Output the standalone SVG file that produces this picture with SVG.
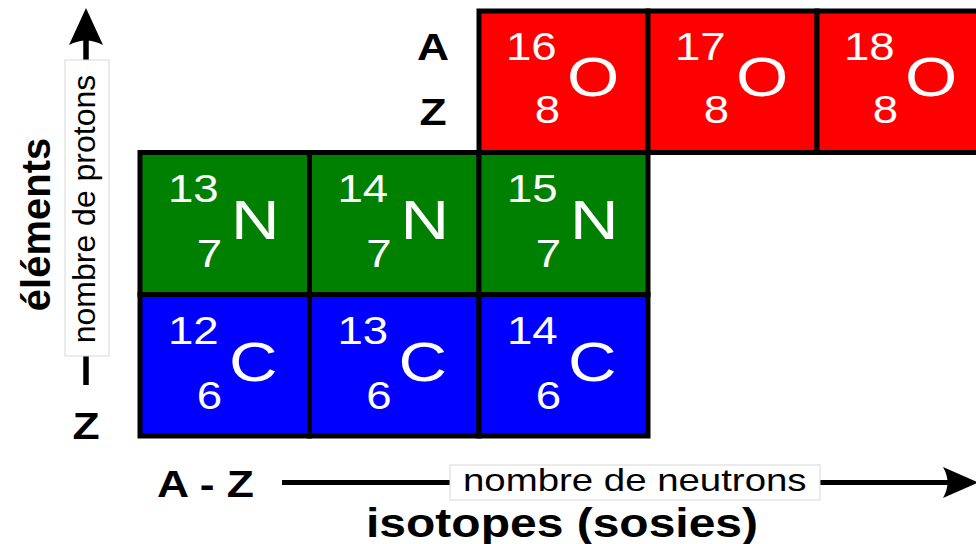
<svg xmlns="http://www.w3.org/2000/svg" width="976" height="544" viewBox="0 0 976 544">
<style>
.cell{stroke:#000;stroke-width:5}
.red{fill:#ff0000}.green{fill:#008000}.blue{fill:#0000ff}
.w{fill:#fff;font-family:"Liberation Sans",Arial,sans-serif}
.num{font-size:38px}
.sym{font-size:56px}
.b{font-family:"Liberation Sans",Arial,sans-serif;font-weight:bold;fill:#000}
.r{font-family:"Liberation Sans",Arial,sans-serif;fill:#000;font-size:32px}
.lbl{fill:#fff;stroke:#d8d8d8;stroke-width:1}
.ax{stroke:#000;fill:none}
</style>
<rect width="976" height="544" fill="#fff"/>
<g id="connectors">
  <line class="ax" x1="86" y1="385" x2="86" y2="40" stroke-width="5.5"/>
  <path d="M86,8 L103,45 Q86,36 69,45 Z" fill="#000"/>
  <line class="ax" x1="282" y1="482.5" x2="952" y2="482.5" stroke-width="5"/>
  <path d="M978,482.5 L943,467 Q952,482.5 943,498 Z" fill="#000"/>
</g>
<g id="axis-labels">
  <rect class="lbl" x="65" y="60" width="44" height="296"/>
  <text class="r" transform="translate(95,209) rotate(-90)" text-anchor="middle">nombre de protons</text>
  <text class="b" transform="translate(50,224.5) rotate(-90)" text-anchor="middle" font-size="40">éléments</text>
  <text class="b" transform="translate(86,439) scale(1.2,1)" text-anchor="middle" font-size="37">Z</text>
  <rect class="lbl" x="450" y="465" width="370" height="35"/>
  <text class="r" transform="translate(463,491) scale(1.2,1)">nombre de neutrons</text>
  <text class="b" transform="translate(157,497) scale(1.2,1)" font-size="37">A - Z</text>
  <text class="b" transform="translate(366,537) scale(1.2,1)" font-size="40">isotopes (sosies)</text>
  <text class="b" transform="translate(433,60) scale(1.2,1)" text-anchor="middle" font-size="37">A</text>
  <text class="b" transform="translate(433,125) scale(1.2,1)" text-anchor="middle" font-size="37">Z</text>
</g>
<g id="O16">
  <rect class="cell red" x="479" y="11" width="169" height="141.5"/>
  <text class="w num" transform="translate(506,60) scale(1.2,1)">16</text>
  <text class="w num" transform="translate(560,123) scale(1.2,1)" text-anchor="end">8</text>
  <text class="w sym" transform="translate(567,96) scale(1.2,1)">O</text>
</g>
<g id="O17">
  <rect class="cell red" x="648" y="11" width="169" height="141.5"/>
  <text class="w num" transform="translate(675,60) scale(1.2,1)">17</text>
  <text class="w num" transform="translate(729,123) scale(1.2,1)" text-anchor="end">8</text>
  <text class="w sym" transform="translate(736,96) scale(1.2,1)">O</text>
</g>
<g id="O18">
  <rect class="cell red" x="817" y="11" width="169" height="141.5"/>
  <text class="w num" transform="translate(844,60) scale(1.2,1)">18</text>
  <text class="w num" transform="translate(898,123) scale(1.2,1)" text-anchor="end">8</text>
  <text class="w sym" transform="translate(905,96) scale(1.2,1)">O</text>
</g>
<g id="N13">
  <rect class="cell green" x="140" y="152.5" width="169.5" height="142"/>
  <text class="w num" transform="translate(168,202) scale(1.2,1)">13</text>
  <text class="w num" transform="translate(222,267) scale(1.2,1)" text-anchor="end">7</text>
  <text class="w sym" transform="translate(231,239) scale(1.2,1)">N</text>
</g>
<g id="N14">
  <rect class="cell green" x="309.5" y="152.5" width="169.5" height="142"/>
  <text class="w num" transform="translate(337.5,202) scale(1.2,1)">14</text>
  <text class="w num" transform="translate(391.5,267) scale(1.2,1)" text-anchor="end">7</text>
  <text class="w sym" transform="translate(400.5,239) scale(1.2,1)">N</text>
</g>
<g id="N15">
  <rect class="cell green" x="479" y="152.5" width="169" height="142"/>
  <text class="w num" transform="translate(507,202) scale(1.2,1)">15</text>
  <text class="w num" transform="translate(561,267) scale(1.2,1)" text-anchor="end">7</text>
  <text class="w sym" transform="translate(570,239) scale(1.2,1)">N</text>
</g>
<g id="C12">
  <rect class="cell blue" x="140" y="294.5" width="169.5" height="141.5"/>
  <text class="w num" transform="translate(168,344) scale(1.2,1)">12</text>
  <text class="w num" transform="translate(222,409) scale(1.2,1)" text-anchor="end">6</text>
  <text class="w sym" transform="translate(229,381) scale(1.2,1)">C</text>
</g>
<g id="C13">
  <rect class="cell blue" x="309.5" y="294.5" width="169.5" height="141.5"/>
  <text class="w num" transform="translate(337.5,344) scale(1.2,1)">13</text>
  <text class="w num" transform="translate(391.5,409) scale(1.2,1)" text-anchor="end">6</text>
  <text class="w sym" transform="translate(398.5,381) scale(1.2,1)">C</text>
</g>
<g id="C14">
  <rect class="cell blue" x="479" y="294.5" width="169" height="141.5"/>
  <text class="w num" transform="translate(507,344) scale(1.2,1)">14</text>
  <text class="w num" transform="translate(561,409) scale(1.2,1)" text-anchor="end">6</text>
  <text class="w sym" transform="translate(568,381) scale(1.2,1)">C</text>
</g>
</svg>
